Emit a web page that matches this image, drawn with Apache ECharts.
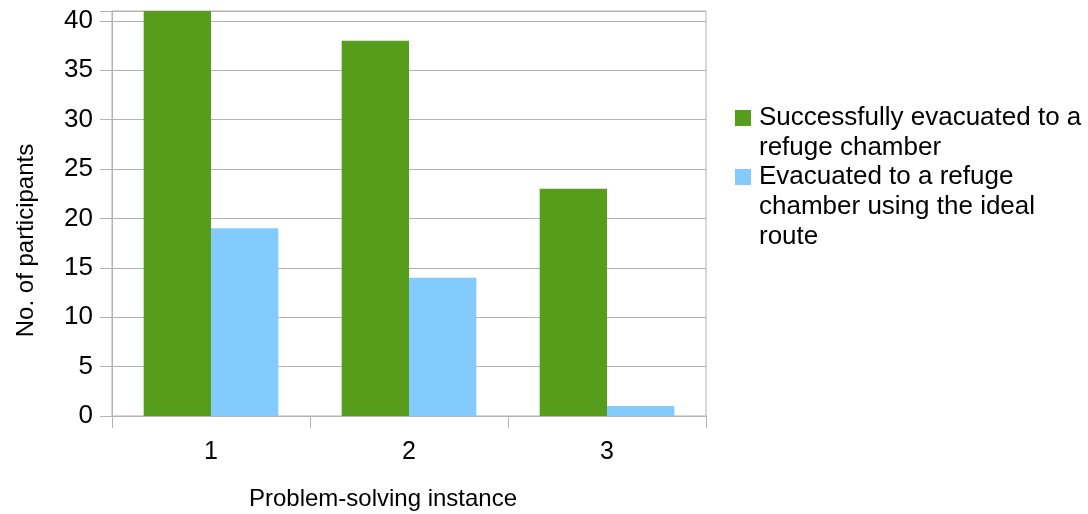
<!DOCTYPE html>
<html>
<head>
<meta charset="utf-8">
<script src="https://cdn.jsdelivr.net/npm/echarts@6/dist/echarts.min.js"></script>
<style>
html,body{margin:0;padding:0;background:#fff;}
#chart{width:1088px;height:514px;}
</style>
</head>
<body>
<div id="chart"></div>
<script>
const categories = ['1', '2', '3'];
const seriesNames = ['Successfully evacuated to a refuge chamber', 'Evacuated to a refuge chamber using the ideal route'];
const legendLines = [
  ['Successfully evacuated to a', 'refuge chamber'],
  ['Evacuated to a refuge', 'chamber using the ideal', 'route']
];
const evacuated = [41, 38, 23];
const idealRoute = [19, 14, 1];
const yTicks = [0, 5, 10, 15, 20, 25, 30, 35, 40];
const colors = ['#579d1c', '#83caff'];

const FONT = "'Liberation Sans', Arial, sans-serif";
const chart = echarts.init(document.getElementById('chart'));
chart.setOption({
  animation: false,
  color: colors,
  textStyle: { fontFamily: FONT },
  grid: {
    left: 112, right: 382, top: 11, bottom: 98,
    containLabel: false, outerBoundsMode: 'none',
    show: true, borderColor: '#b3b3b3', borderWidth: 1, backgroundColor: 'transparent'
  },
  legend: {
    orient: 'vertical',
    left: 725,
    top: 100,
    itemGap: 3,
    itemWidth: 0,
    itemHeight: 0,
    data: seriesNames,
    selectedMode: false,
    formatter: function (name) {
      const i = seriesNames.indexOf(name);
      const lines = legendLines[i];
      return lines.map(function (l, k) {
        return (k === 0 ? '{m' + i + '|}{g|}' : '{s|}') + '{t|' + l + '}';
      }).join('\n');
    },
    textStyle: {
      fontFamily: FONT,
      rich: {
        m0: { width: 16, height: 16, backgroundColor: colors[0] },
        m1: { width: 16, height: 16, backgroundColor: colors[1] },
        g: { width: 8 },
        s: { width: 24 },
        t: { fontSize: 26, lineHeight: 30, color: '#000', fontFamily: FONT }
      }
    }
  },
  xAxis: {
    type: 'category',
    data: categories,
    name: 'Problem-solving instance',
    nameLocation: 'middle',
    nameGap: 71,
    nameTextStyle: { fontSize: 24, color: '#000', fontFamily: FONT, padding: [0, 52, 0, 0] },
    axisLine: { lineStyle: { color: '#b3b3b3', width: 1 } },
    axisTick: { show: true, length: 12, lineStyle: { color: '#b3b3b3' } },
    axisLabel: { fontSize: 25, color: '#000', margin: 24, fontFamily: FONT },
    splitLine: { show: false }
  },
  yAxis: {
    type: 'value',
    min: 0,
    max: 41,
    interval: 5,
    name: 'No. of participants',
    nameLocation: 'middle',
    nameGap: 74,
    nameTextStyle: { fontSize: 24, color: '#000', fontFamily: FONT, padding: [0, 54, 0, 0] },
    axisLine: { show: true, lineStyle: { color: '#b3b3b3', width: 1 } },
    axisTick: { show: true, length: 12, lineStyle: { color: '#b3b3b3' } },
    axisLabel: {
      fontSize: 26, color: '#000', margin: 19, fontFamily: FONT,
      formatter: function (v) { return yTicks.indexOf(v) >= 0 ? String(v) : ''; }
    },
    splitLine: { show: true, lineStyle: { color: '#b3b3b3', width: 1 } }
  },
  series: [
    { name: seriesNames[0], type: 'bar', data: evacuated, barGap: '0%', barCategoryGap: '32%', itemStyle: { color: colors[0] } },
    { name: seriesNames[1], type: 'bar', data: idealRoute, barGap: '0%', barCategoryGap: '32%', itemStyle: { color: colors[1] } }
  ]
});
</script>
</body>
</html>
